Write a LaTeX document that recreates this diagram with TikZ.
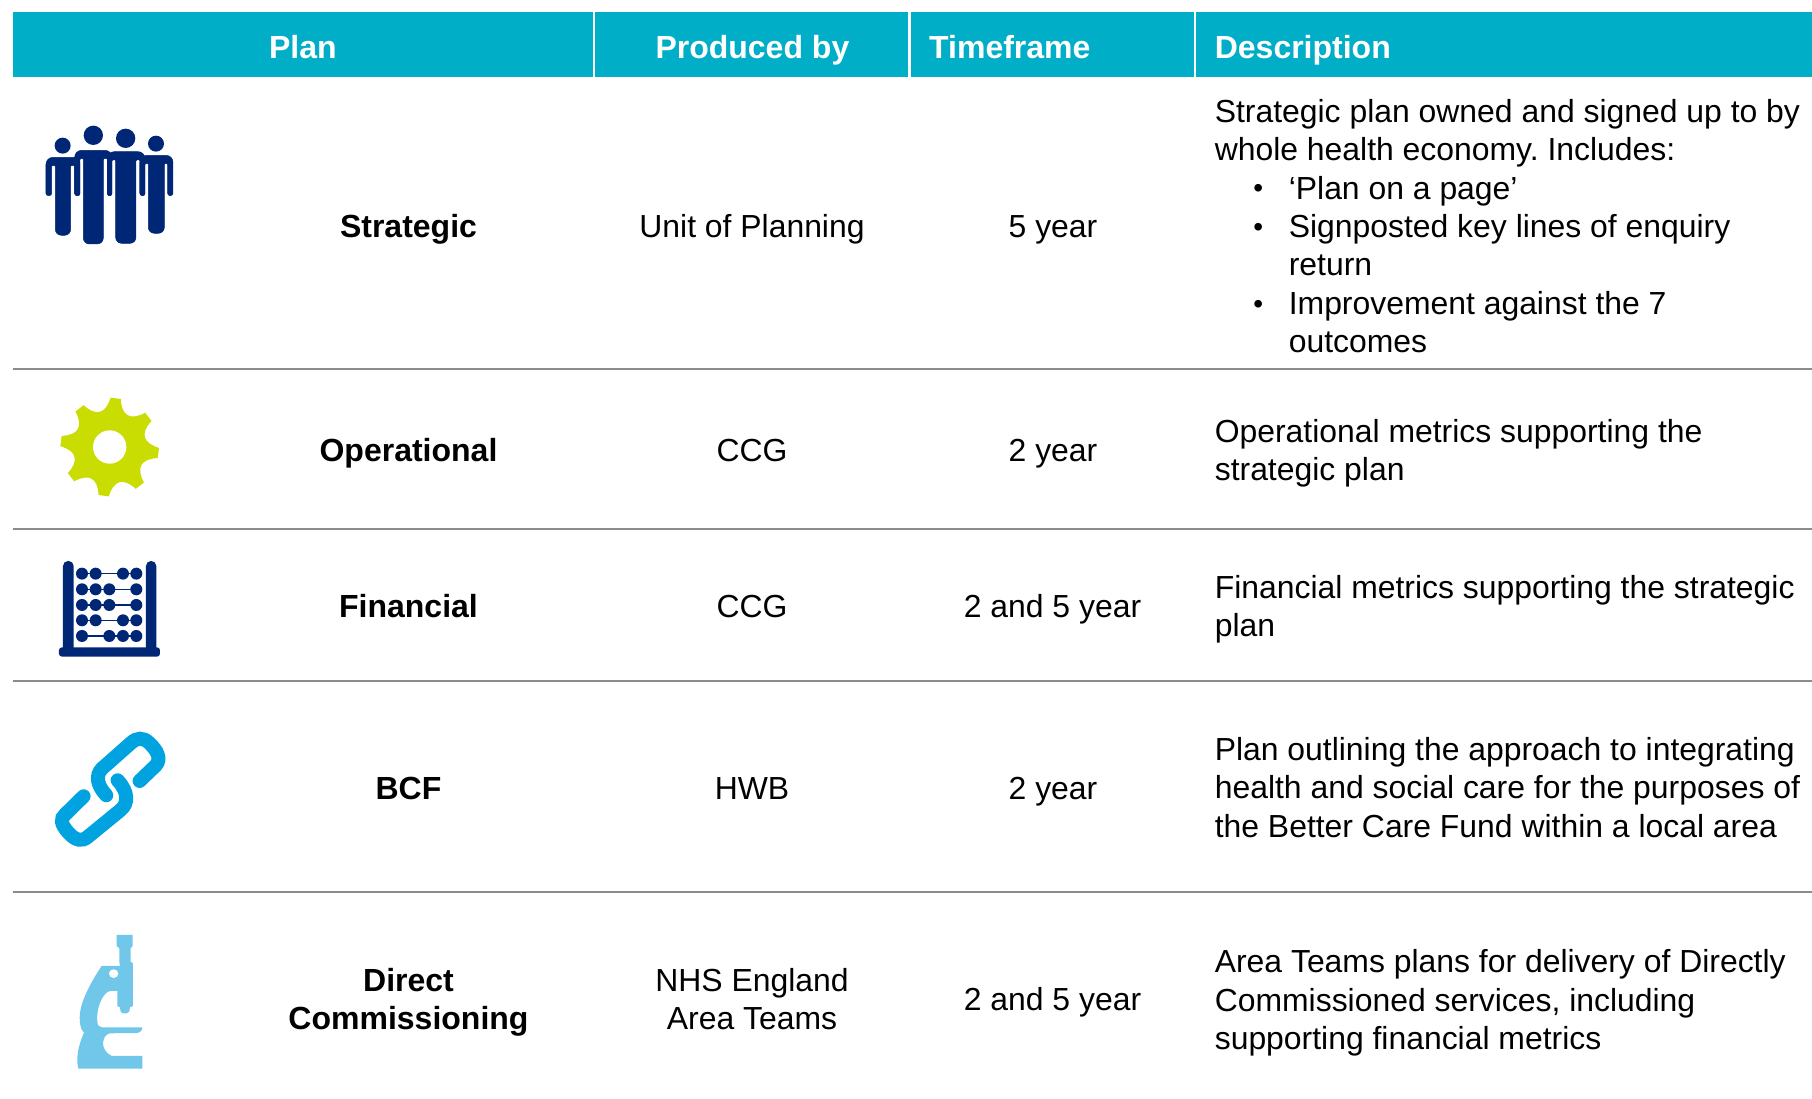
\documentclass[tikz,border=0pt]{standalone}
\usepackage{fontspec}
\setmainfont{Liberation Sans}
\frenchspacing
\definecolor{headbg}{HTML}{00AEC7}
\definecolor{rulegray}{HTML}{8C8C8C}
\definecolor{navyicon}{HTML}{002776}
\definecolor{gearlime}{HTML}{C9DD03}
\definecolor{chainblue}{HTML}{00A3E0}
\definecolor{scopeblue}{HTML}{71C7EA}
\newcommand{\lead}{\rule{0pt}{29pt}}
\newcommand{\bul}{\makebox[74pt][l]{\hspace{38.5pt}\raisebox{1.2pt}{\fontsize{28}{38.4}\selectfont•}}}
\newcommand{\ind}{\hspace*{74pt}}
\newcommand{\person}[8]{% l-arm-left, l-arm-right, torso-left, torso-right, r-arm-left, r-arm-right, shoulder, foot
  \filldraw[navyicon,line width=0.5pt,rounded corners=2.4pt] (#1,587) [rounded corners=7pt] -- (#1,#7) -- (#6,#7) [rounded corners=2.4pt] -- (#6,587) -- (#5,587) [rounded corners=0.8pt] -- (#5,#7+25) -- (#4,#7+25) [rounded corners=6pt] -- (#4,#8) -- (#3,#8) [rounded corners=0.8pt] -- (#3,#7+25) -- (#2,#7+25) [rounded corners=2.4pt] -- (#2,587) -- cycle;}
\tikzset{
  base text/.style={font=\fontsize{31.9}{38.4}\selectfont,inner sep=0pt,text=black},
  head/.style={base text,font=\fontsize{32}{38.4}\selectfont\bfseries,text=white,anchor=base},
  plan/.style={base text,font=\fontsize{32}{38.4}\selectfont\bfseries,align=center,anchor=north},
  cell/.style={base text,align=center,anchor=north},
  desc/.style={base text,align=left,anchor=north west},
  rowrule/.style={draw=rulegray,line width=2.5pt},
  headsep/.style={draw=white,line width=2.6pt},
  bead/.style={fill=navyicon},
}
\begin{document}
\begin{tikzpicture}[x=1pt,y=-1pt]
\useasboundingbox (0,0) rectangle (1812,1099);
\fill[white] (0,0) rectangle (1812,1099);
% header
\fill[headbg] (12.5,12) rectangle (1812,77);
\foreach \n/\x in {a/594,b/909.5,c/1195}{
  \coordinate (s\n t) at (\x,12);
  \coordinate (s\n b) at (\x,77);
  \draw[headsep] (s\n t) -- (s\n b);
}
\node[head] (hplan) at (302.8,59) {Plan};
\node[head] (hprod) at (752.4,59) {Produced by};
\node[head,anchor=base west] (htime) at (929,59) {Timeframe};
\node[head,anchor=base west] (hdesc) at (1214.6,59) {Description};
% row rules
\foreach \n/\y in {a/369,b/529,c/681,d/892}{
  \coordinate (r\n l) at (12.5,\y);
  \coordinate (r\n r) at (1812,\y);
  \draw[rowrule] (r\n l) -- (r\n r);
}
% row 1
\node[plan] (p1) at (408.5,238.5-30) {\lead Strategic};
\node[cell] (q1) at (752,238.5-30) {\lead Unit of Planning};
\node[cell] (t1) at (1053,238.5-30) {\lead 5 year};
\node[desc] (d1) at (1214.6,123-30) {\lead Strategic plan owned and signed up to by\\
whole health economy. Includes:\\
\bul ‘Plan on a page’\\
\bul Signposted key lines of enquiry\\
\ind return\\
\bul Improvement against the 7\\
\ind outcomes};
% row 2
\node[plan] (p2) at (408.5,462.5-30) {\lead Operational};
\node[cell] (q2) at (752,462.5-30) {\lead CCG};
\node[cell] (t2) at (1053,462.5-30) {\lead 2 year};
\node[desc] (d2) at (1214.6,443-30) {\lead Operational metrics supporting the\\strategic plan};
% row 3
\node[plan] (p3) at (408.5,618.5-30) {\lead Financial};
\node[cell] (q3) at (752,618.5-30) {\lead CCG};
\node[cell] (t3) at (1052.5,618.5-30) {\lead 2 and 5 year};
\node[desc] (d3) at (1214.6,599-30) {\lead Financial metrics supporting the strategic\\plan};
% row 4
\node[plan] (p4) at (408.5,800-30) {\lead BCF};
\node[cell] (q4) at (752,800-30) {\lead HWB};
\node[cell] (t4) at (1053,800-30) {\lead 2 year};
\node[desc] (d4) at (1214.6,761-30) {\lead Plan outlining the approach to integrating\\health and social care for the purposes of\\the Better Care Fund within a local area};
% row 5
\node[plan] (p5) at (408.5,992-30) {\lead Direct\\Commissioning};
\node[cell] (q5) at (752,992-30) {\lead NHS England\\Area Teams};
\node[cell] (t5) at (1052.5,1011.6-30) {\lead 2 and 5 year};
\node[desc] (d5) at (1214.6,973.5-30) {\lead Area Teams plans for delivery of Directly\\Commissioned services, including\\supporting financial metrics};
% people icon
\begin{scope}[x=0.3333pt,y=-0.3333pt]
  \fill[navyicon] (188,437) circle[radius=24];
  \fill[navyicon] (280,406) circle[radius=29];
  \fill[navyicon] (377,415) circle[radius=29];
  \fill[navyicon] (468,431) circle[radius=24];
  \person{138}{155}{166}{212}{224}{240}{472}{706}
  \person{224}{240}{250}{310}{322}{336}{451}{732}
  \person{322}{336}{347}{408}{420}{435}{455}{730}
  \person{420}{435}{445}{493}{503}{519}{466}{700}
\end{scope}
% gear icon
\begin{scope}[shift={(109.67,447)},x=0.3333pt,y=0.3333pt]
  \fill[gearlime] (77:148)
    \foreach \a in {83,38,-7,-52,-97,-142,-187,-232}{
      -- (\a-6:148) .. controls (\a-14:100) and (\a-31:100) .. (\a-39:148)
    } -- cycle;
  \fill[white] (0,0) circle[radius=50];
\end{scope}
% abacus icon
\begin{scope}[shift={(0,370)},x=0.3333pt,y=-0.3333pt]
  \fill[navyicon,rounded corners=5pt] (189,850) -- (189,573) -- (221,573) -- (221,850) -- cycle;
  \fill[navyicon,rounded corners=5pt] (438,850) -- (438,573) -- (469,573) -- (469,850) -- cycle;
  \fill[navyicon,rounded corners=3pt] (177,832) rectangle (480,860);
  \foreach \y/\xa/\xb/\xc/\xd in {611/246/287/369/409,658/246/287/328/409,705/246/287/328/409,751/246/287/369/409,798/246/328/369/409}{
    \draw[navyicon,line width=1.5pt] (246,\y) -- (409,\y);
    \foreach \x in {\xa,\xb,\xc,\xd}{\fill[bead] (\x,\y) circle[radius=18];}
  }
\end{scope}
% chain icon
\begin{scope}[shift={(0.3,700.3)},x=0.3333pt,y=-0.3333pt]
  \draw[chainblue,line width=14pt,line cap=round] (418,242) -- (466,196) .. controls (485,175) and (470,150) .. (447,128) .. controls (428,110) and (410,112) .. (392,128) -- (305,205) .. controls (285,225) and (290,255) .. (318,285);
  \draw[chainblue,line width=14pt,line cap=round] (352,240) .. controls (385,275) and (385,310) .. (360,330) -- (262,410) .. controls (245,425) and (225,420) .. (205,398) .. controls (180,370) and (180,355) .. (195,342) -- (250,288);
\end{scope}
% microscope icon
\begin{scope}[shift={(0,700)},x=0.3333pt,y=-0.3333pt]
  \fill[scopeblue] (350,705) -- (398,705) -- (398,738) -- (392,745) -- (392,785) -- (399,790) -- (399,918) -- (390,922) -- (388,935) -- (380,940) -- (368,940) -- (362,935) -- (360,922) -- (352,918) -- (352,873) -- (330,873)
   .. controls (305,880) and (288,930) .. (292,965) .. controls (293,975) and (296,982) .. (305,982) -- (427,982) .. controls (427,992) and (420,998) .. (410,999) -- (330,1000)
   .. controls (305,1005) and (298,1050) .. (335,1068) -- (427,1068) -- (427,1106) -- (235,1106)
   .. controls (226,1070) and (238,1030) .. (252,998) .. controls (238,985) and (235,950) .. (245,915)
   .. controls (255,880) and (280,835) .. (305,798) -- (360,798) -- (358,785) -- (358,745) -- (350,738) -- cycle;
  \fill[white] (341,821) ellipse[x radius=14,y radius=13];
\end{scope}
\end{tikzpicture}
\end{document}
